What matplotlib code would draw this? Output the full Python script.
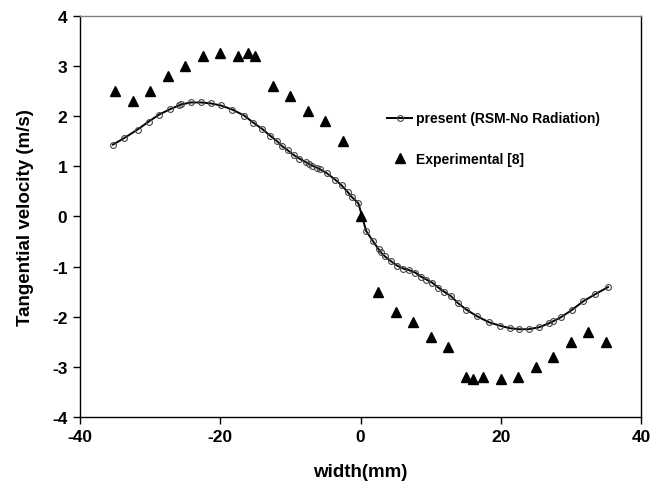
import matplotlib
matplotlib.use("Agg")
import matplotlib.pyplot as plt

plt.rcParams['font.family'] = ['Liberation Sans', 'DejaVu Sans']
plt.rcParams['font.weight'] = 'bold'
plt.rcParams['axes.unicode_minus'] = False

# Present (RSM-No Radiation) model curve
model_x = [-35.3, -33.7, -31.8, -30.2, -28.7, -27.1, -25.9, -25.6, -24.2, -22.7,
           -21.3, -19.9, -18.3, -16.6, -15.3, -14.0, -12.9, -11.9, -11.2, -10.4,
           -9.5, -8.7, -7.8, -7.4, -6.9, -6.2, -5.8, -4.8, -3.6, -2.7,
           -1.8, -1.2, -0.3, 0.8, 1.8, 2.6, 2.9, 3.5, 4.4, 5.2,
           6.1, 6.9, 7.8, 8.6, 9.4, 10.2, 11.1, 11.9, 12.9, 13.9,
           15.1, 16.6, 18.3, 19.9, 21.3, 22.6, 24.0, 25.5, 26.9, 27.5,
           28.6, 30.1, 31.8, 33.5, 35.3]
model_y = [1.43, 1.56, 1.73, 1.89, 2.03, 2.14, 2.21, 2.23, 2.27, 2.27,
           2.25, 2.21, 2.13, 2.01, 1.87, 1.74, 1.61, 1.50, 1.40, 1.32,
           1.22, 1.15, 1.08, 1.05, 1.01, 0.97, 0.94, 0.86, 0.73, 0.62,
           0.48, 0.38, 0.26, -0.29, -0.50, -0.66, -0.72, -0.80, -0.90, -0.98,
           -1.04, -1.07, -1.12, -1.20, -1.26, -1.32, -1.42, -1.50, -1.59, -1.73,
           -1.86, -1.99, -2.11, -2.18, -2.23, -2.25, -2.25, -2.21, -2.13, -2.09,
           -2.01, -1.87, -1.69, -1.55, -1.41]

# Experimental [8]
exp_x = [-35, -32.5, -30, -27.5, -25, -22.5, -20, -17.5, -16, -15, -12.5, -10, -7.5, -5, -2.5, 0,
         2.5, 5, 7.5, 10, 12.5, 15, 16, 17.5, 20, 22.5, 25, 27.5, 30, 32.5, 35]
exp_y = [2.5, 2.3, 2.5, 2.8, 3.0, 3.2, 3.25, 3.2, 3.25, 3.2, 2.6, 2.4, 2.1, 1.9, 1.5, 0.0,
         -1.5, -1.9, -2.1, -2.4, -2.6, -3.2, -3.25, -3.2, -3.25, -3.2, -3.0, -2.8, -2.5, -2.3, -2.5]

x_ticks = [-40, -20, 0, 20, 40]
y_ticks = [-4, -3, -2, -1, 0, 1, 2, 3, 4]

fig = plt.figure(figsize=(6.52, 4.89), dpi=100)
ax = fig.add_axes([80/652, 1-418/489, 561/652, (418-16.7)/489])

ax.plot(model_x, model_y, '-', color='black', lw=1.4, marker='o', ms=4.2,
        mfc='none', mec='#444444', mew=0.8, label='present (RSM-No Radiation)')
ax.plot(exp_x, exp_y, '^', color='black', ms=7, ls='none', label='Experimental [8]')

ax.set_xlim(-40, 40)
ax.set_ylim(-4, 4)
ax.set_xticks(x_ticks)
ax.set_yticks(y_ticks)
ax.tick_params(direction='out', length=5, width=1, labelsize=12.5, pad=4)
for lab in ax.get_xticklabels() + ax.get_yticklabels():
    lab.set_fontweight('bold')

ax.spines['top'].set_color('#808080')
for s in ax.spines.values():
    s.set_linewidth(1.0)

ax.set_xlabel('width(mm)', fontsize=13.5, fontweight='bold', labelpad=13)
ax.set_ylabel('Tangential velocity (m/s)', fontsize=13.5, fontweight='bold', labelpad=13)

leg = ax.legend(loc='upper left', bbox_to_anchor=((387-80)/561, 1-(112.5-16.7)/401.3),
                frameon=False, fontsize=10, borderpad=0, borderaxespad=0,
                handlelength=1.8, handletextpad=0.3, labelspacing=1.9)
for t in leg.get_texts():
    t.set_fontweight('bold')

fig.savefig('out.png', dpi=100)
